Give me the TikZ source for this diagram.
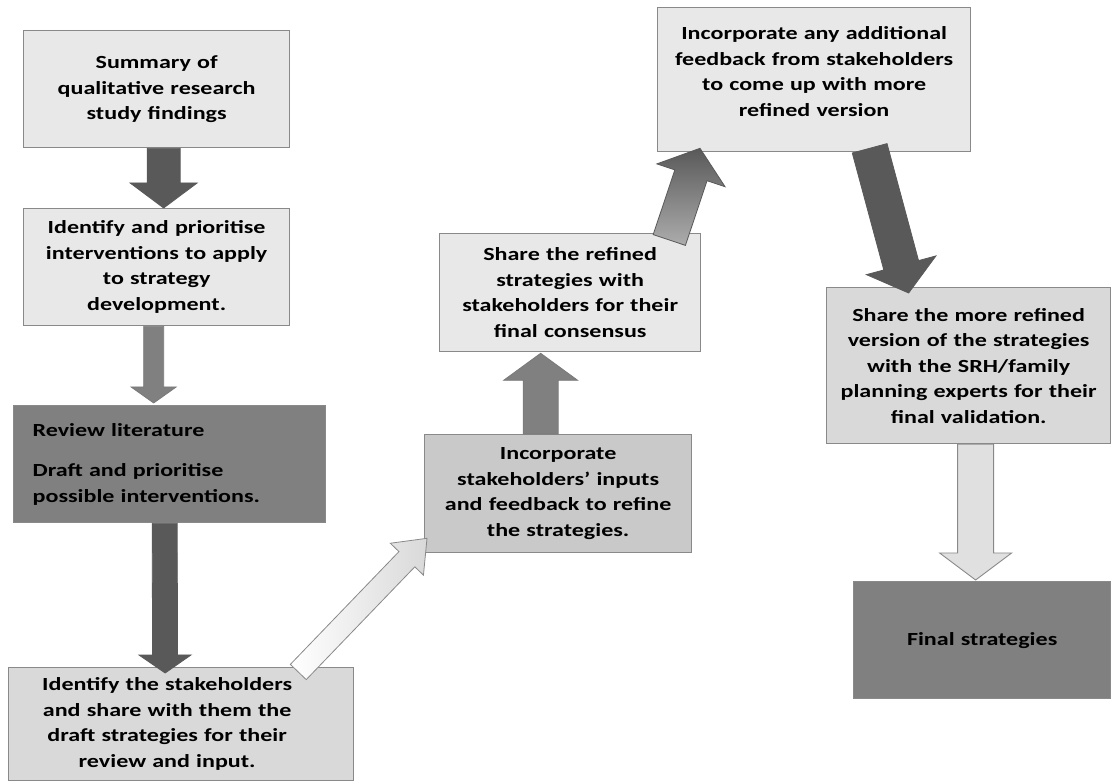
\documentclass[tikz,border=0pt]{standalone}
\usepackage{fontspec}
\setmainfont{Carlito}[FakeStretch=1.3]
\usepackage{xcolor}
\usepackage{tikz}
\usetikzlibrary{calc}

\definecolor{boxline}{RGB}{137,137,137}
\definecolor{fillA}{RGB}{232,232,232}
\definecolor{fillB}{RGB}{217,217,217}
\definecolor{fillC}{RGB}{201,201,201}
\definecolor{fillD}{RGB}{128,128,128}
\definecolor{arrdark}{RGB}{89,89,89}
\definecolor{arrmid}{RGB}{128,128,128}
\definecolor{arrlight}{RGB}{224,224,224}

% block arrow: [style]{from}{to}{half shaft}{half head}{head length}
\newcommand{\blockarrow}[6][]{%
  \draw[#1] let \p1=(#2), \p2=(#3), \n1={atan2(\y2-\y1,\x2-\x1)}, \n2={veclen(\x2-\x1,\y2-\y1)} in
    ($(\p1)+(\n1+90:#4)$) -- ($(\p1)+(\n1:\n2-#6)+(\n1+90:#4)$) -- ($(\p1)+(\n1:\n2-#6)+(\n1+90:#5)$)
    -- (\p2) -- ($(\p1)+(\n1:\n2-#6)+(\n1-90:#5)$) -- ($(\p1)+(\n1:\n2-#6)+(\n1-90:#4)$)
    -- ($(\p1)+(\n1-90:#4)$) -- cycle;}

\begin{document}
\begin{tikzpicture}[x=1pt, y=-1pt, font=\fontsize{18.5}{25.5}\selectfont\bfseries,
  box/.style={draw=boxline, line width=1.3pt, anchor=north west, inner sep=0pt, align=center},
  darrow/.style={fill=arrdark, draw=arrdark, line width=0.8pt},
  marrow/.style={fill=arrmid, draw=arrdark!80, line width=0.8pt}]
  \useasboundingbox (0,0) rectangle (1112,783);

  \node[box, fill=fillA, minimum width=266pt, minimum height=117pt, text width=250pt] (summary) at (23,30)
    {Summary of\\ qualitative research\\ study findings};
  \node[box, fill=fillA, minimum width=266pt, minimum height=117pt, text width=250pt] (prioritise) at (23,208)
    {Identify and prioritise\\ interventions to apply\\ to strategy\\ development.};
  \node[box, fill=fillD, minimum width=312pt, minimum height=117pt, text width=274pt, align=left] (review) at (13,405)
    {Review literature\\[15pt] Draft and prioritise\\ possible interventions.};
  \node[box, fill=fillB, minimum width=345pt, minimum height=113pt, text width=320pt] (identify) at (8,667)
    {\makebox[320pt][l]{\begin{minipage}{292pt}\centering Identify the stakeholders\\ and share with them the\\ draft strategies for their\\ review and input.\end{minipage}}};
  \node[box, fill=fillC, minimum width=267pt, minimum height=118pt, text width=250pt] (inputs) at (424,434)
    {Incorporate\\ stakeholders’ inputs\\ and feedback to refine\\ the strategies.};
  \node[box, fill=fillA, minimum width=261pt, minimum height=118pt, text width=250pt] (refined) at (439,233)
    {Share the refined\\ strategies with\\ stakeholders for their\\ final consensus};
  \node[box, fill=fillA, minimum width=313pt, minimum height=144pt, text width=300pt] (additional) at (657,7)
    {Incorporate any additional\\ feedback from stakeholders\\ to come up with more\\ refined version\\[-9pt]\mbox{}};
  \node[box, fill=fillB, minimum width=284pt, minimum height=156pt, text width=275pt] (experts) at (826,287)
    {Share the more refined\\ version of the strategies\\ with the SRH/family\\ planning experts for their\\ final validation.};
  \node[box, fill=fillD, minimum width=257pt, minimum height=117pt, text width=240pt] (final) at (853,581)
    {Final strategies};

  % arrows
  \blockarrow[darrow]{$(summary.south)+(7,0)$}{$(prioritise.north)+(7,0)$}{16.5pt}{33.5pt}{25pt}
  \blockarrow[marrow]{$(prioritise.south)+(-3,0)$}{$(review.north)+(-16,-2)$}{10pt}{22.5pt}{16pt}
  \blockarrow[darrow]{$(review.south)+(-5,0)$}{$(identify.north)+(-16,6)$}{12.5pt}{26pt}{18pt}
  \blockarrow[left color=white, right color=fillB, draw=boxline, line width=0.8pt]{$(identify.north east)+(-56,5)$}{$(inputs.south west)+(3,-15)$}{11pt}{23pt}{29pt}
  \blockarrow[marrow]{$(inputs.north)+(-17.5,0)$}{$(refined.south)+(-29.5,1)$}{17.5pt}{37pt}{27pt}
  \blockarrow[top color=arrdark, bottom color=arrmid!65, draw=arrdark, line width=0.8pt]{$(refined.north east)+(-32,7)$}{$(additional.south west)+(43,-4)$}{17pt}{36pt}{28.5pt}
  \blockarrow[darrow]{$(additional.south)+(55.5,-4)$}{$(experts.north)+(-60,6)$}{18pt}{36pt}{28.7pt}
  \blockarrow[fill=arrlight, draw=boxline, line width=0.9pt]{$(experts.south)+(7,0)$}{$(final.north)+(-6.5,-1)$}{18pt}{36pt}{27pt}
\end{tikzpicture}
\end{document}
